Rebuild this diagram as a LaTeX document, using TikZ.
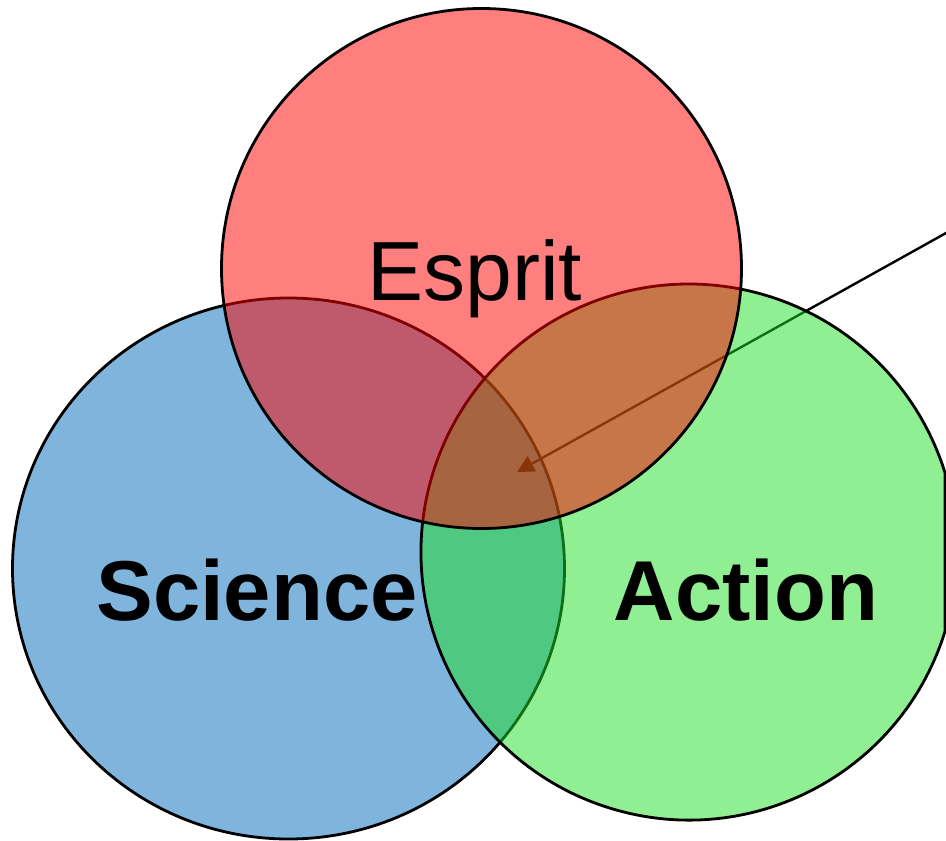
\documentclass[tikz,border=0pt]{standalone}
\usepackage{fontspec}
\setmainfont{Liberation Sans}
\usetikzlibrary{arrows.meta}
\definecolor{sciblue}{RGB}{127,181,220}
\definecolor{actgreen}{RGB}{33,221,40}
\definecolor{espred}{RGB}{255,0,0}
\tikzset{
  setbox/.style={draw=black, line width=2.8pt},
  lbl/.style={anchor=base, inner sep=0pt, text=black},
  pointer/.style={draw=black, line width=2.4pt, -{Triangle[length=17pt,width=17pt]}}
}
\begin{document}
\begin{tikzpicture}[x=1pt,y=-1pt]
\useasboundingbox (0,0) rectangle (946,841);
\clip (0,0) rectangle (946,841);
% Science (blue)
\path[setbox, fill=sciblue] (288.5,568.5) ellipse[x radius=276, y radius=270.5];
% arrow (under green and red)
\coordinate (src) at (950,230.8);
\coordinate (tip) at (517,472);
\draw[pointer] (src) -- (tip);
% Action (green), clipped by the right edge
\path[setbox, fill=actgreen, fill opacity=0.5] (945,631.3) arc[start angle=17.2, end angle=342.8, radius=268] -- cycle;
% Esprit (red)
\path[setbox, fill=espred, fill opacity=0.5] (481.5,268.5) circle[radius=260];
% labels
\node[lbl, font=\fontsize{84}{90}\selectfont] (esprit) at (475,300) {Esprit};
\node[lbl, font=\fontsize{85}{90}\selectfont\bfseries] (science) at (257,620) {Science};
\node[lbl, font=\fontsize{85}{90}\selectfont\bfseries] (action) at (746,620) {Action};
\end{tikzpicture}
\end{document}
